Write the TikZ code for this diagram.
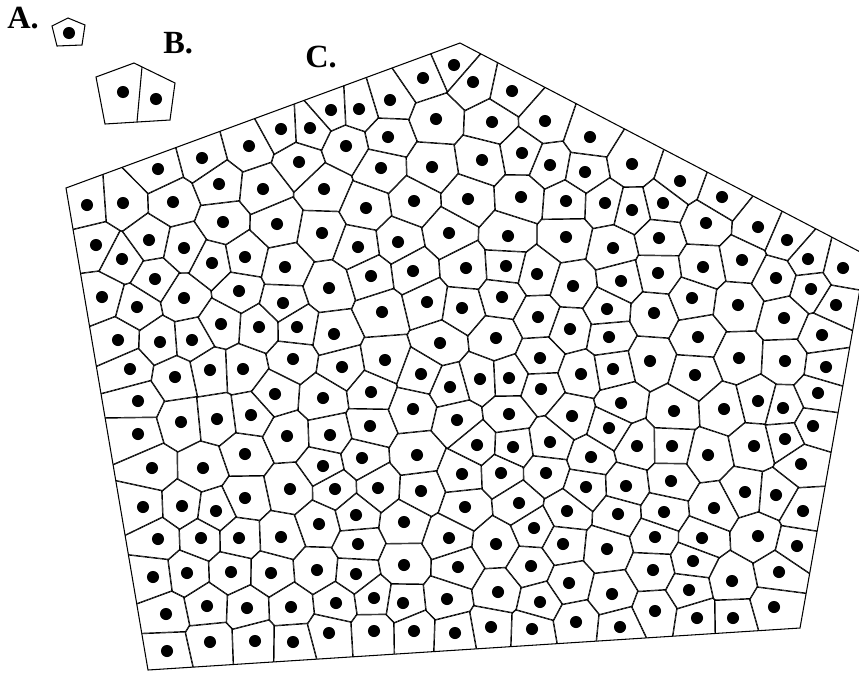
\documentclass[tikz,border=0pt]{standalone}
\usepackage{fontspec}
\newfontfamily\rotulo{Liberation Serif}
\usepackage{tikz}
\usetikzlibrary{calc}

\begin{document}
\begin{tikzpicture}[x=0.025cm,y=-0.025cm,
	aresta/.style={line width=1pt},
	borda/.style={line width=0.75pt,line join=miter},
	nucleo/.style={fill=black},
	letra/.style={anchor=base west,inner sep=0pt,font=\rotulo\bfseries\fontsize{23}{23}\selectfont}]
	
	\useasboundingbox (0,0) rectangle (859,672);
	
%	rotulos
	\node[letra] (la) at (7,28) {A.};
	\node[letra] (lb) at (163,53) {B.};
	\node[letra] (lc) at (305,67) {C.};
	
%	celula A
	\draw[borda] (68,18) -- (85,25) -- (82,45) -- (57,46) -- (52,26) -- cycle;
	\path[nucleo] (69,33) circle (4.3pt);
	
%	celulas B
	\draw[borda] (134,63) -- (175,83) -- (170,120) -- (105,124) -- (96,77) -- cycle;
	\draw[borda] (142,67) -- (137,122);
	\path[nucleo] (123,92) circle (4.3pt);
	\path[nucleo] (156,99) circle (4.3pt);
	
%	pentagono C
	\coordinate (p1) at (66,188);
	\coordinate (p2) at (460,43);
	\coordinate (p3) at (866,255);
	\coordinate (p4) at (800,628);
	\coordinate (p5) at (148,670);
	
%	nucleos
	\def\pontos{454/65, 423/78, 390/100, 359/109, 331/110, 436/119, 388/137, 310/128, 281/129, 346/146,
		249/146, 202/158, 158/169, 299/162, 381/168, 432/167, 219/184, 263/189, 324/189, 414/201,
		366/208, 87/205, 123/203, 173/202, 223/222, 277/224, 322/233, 449/233, 398/242, 96/245,
		149/240, 184/248, 122/259, 212/263, 245/257, 285/267, 358/247, 413/271, 371/276, 155/279,
		329/288, 102/297, 137/307, 184/298, 239/291, 283/303, 382/312, 427/302, 221/324, 259/327,
		297/327, 334/334, 118/340, 160/342, 192/340, 440/343,
		473/82, 512/91, 492/122, 545/121, 590/137, 632/164, 680/181, 722/197, 758/227, 787/240,
		843/268, 808/259, 776/278, 811/289, 836/305, 784/318, 822/335, 742/260, 738/305, 706/223,
		703/267, 692/298, 698/337, 659/238, 663/203, 632/210, 605/203, 585/172, 550/165, 522/153,
		482/160, 468/199, 521/197, 566/201, 508/236, 566/237, 613/248, 466/268, 506/266, 537/274,
		573/286, 621/281, 658/273, 502/297, 462/308, 538/317, 570/329, 607/309, 654/313, 496/338,
		609/337,
		130/369, 175/377, 210/370, 243/369, 293/359, 342/367, 385/360, 421/374, 450/387, 138/401,
		181/422, 217/419, 251/415, 275/394, 323/398, 371/392, 413/409, 457/420, 138/434, 287/436,
		330/435, 370/426, 245/454, 417/455, 152/468, 203/468, 323/466, 362/458, 245/498, 290/489,
		335/489, 378/488, 421/491, 143/507, 182/506, 216/511, 356/515, 319/524, 404/522, 158/539,
		201/538, 239/538, 281/537, 358/544, 449/538, 153/577, 187/573, 231/572, 271/573, 317/570,
		356/574, 404/565, 458/567, 166/614, 207/606, 247/608, 291/607, 336/603, 374/598, 403/603,
		447/599, 167/651, 210/642, 255/641, 293/642, 329/633, 374/631, 414/631, 455/633,
		540/358, 581/374, 613/369, 650/361, 695/375, 739/358, 785/361, 826/367, 480/379, 509/378,
		541/389, 621/403, 674/411, 724/409, 758/401, 783/408, 818/393, 813/426, 509/414, 572/416,
		609/428, 477/445, 513/447, 550/442, 591/457, 637/446, 672/446, 708/455, 754/446, 785/439,
		801/464, 462/474, 501/473, 546/473, 586/487, 626/486, 671/481, 745/492, 776/495, 714/508,
		803/511, 465/507, 519/503, 567/511, 618/514, 664/512, 534/528, 496/544, 563/544, 607/549,
		655/537, 702/538, 758/536, 797/546, 531/566, 653/570, 693/561, 779/572, 732/581, 569/583,
		498/592, 612/594, 689/590, 540/602, 655/611, 774/607, 697/618, 733/618, 576/622, 620/627,
		491/627, 532/629}
	
%	celulas de voronoi
	\foreach \xa/\ya [count=\na] in \pontos {
		\gdef\viz{}
		\foreach \xb/\yb [count=\nb] in \pontos {
			\ifnum\numexpr(\xb-\xa)*(\xb-\xa)+(\yb-\ya)*(\yb-\ya)\relax<10000
			\ifnum\na=\nb\else
				\pgfmathsetmacro\ang{atan2(\ya-\yb,\xb-\xa)+0.8}
				\ifx\viz\empty \xdef\viz{\xb/\yb/\ang}\else \xdef\viz{\viz,\xb/\yb/\ang}\fi
			\fi
			\fi
		}
		\begin{scope}
			\clip (p1) -- (p2) -- (p3) -- (p4) -- (p5) -- cycle;
			\foreach \xb/\yb/\ang in \viz
				\clip[shift={({(\xa+\xb)/2},{(\ya+\yb)/2})},rotate=\ang] (-200,-200) rectangle (0,200);
			\foreach \xb/\yb/\ang in \viz
				\draw[aresta,shift={({(\xa+\xb)/2},{(\ya+\yb)/2})},rotate=\ang] (0,-200) -- (0,200);
		\end{scope}
		\path[nucleo] (\xa,\ya) circle (4.3pt);
	}
	
	\draw[borda] (p1) -- (p2) -- (p3) -- (p4) -- (p5) -- cycle;
	
\end{tikzpicture}
\end{document}
